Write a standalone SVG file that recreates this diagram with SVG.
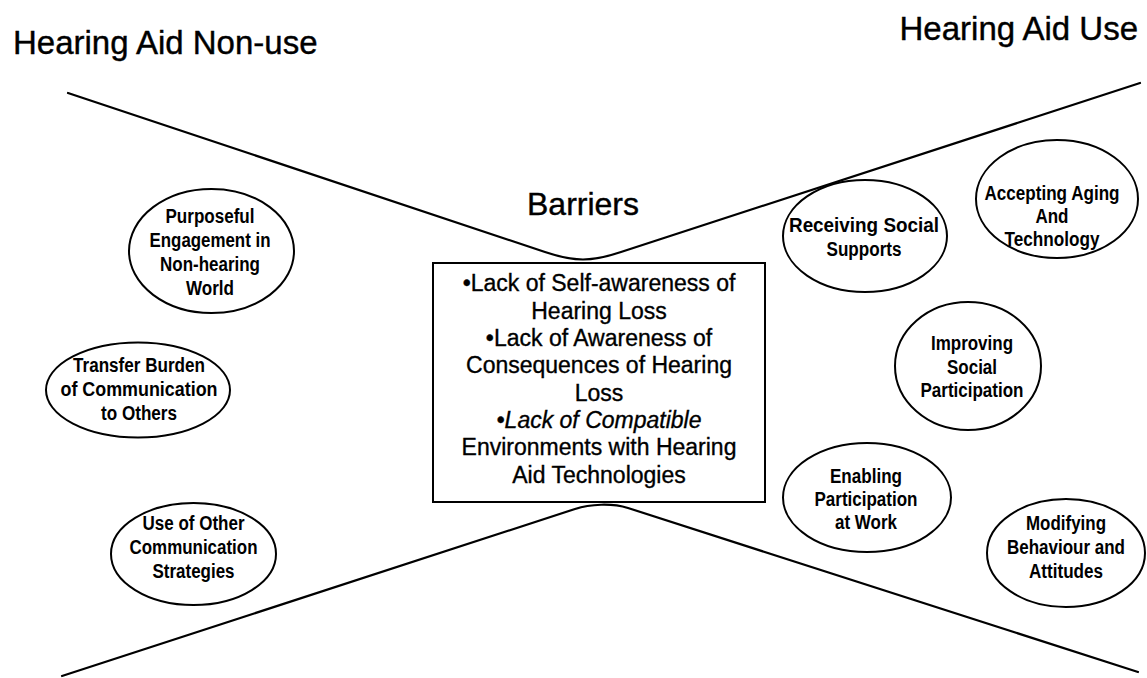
<svg xmlns="http://www.w3.org/2000/svg" width="1147" height="678" viewBox="0 0 1147 678">
  <style>
    .bg { fill: #ffffff; }
    .title { font-family: "Liberation Sans", Arial, sans-serif; font-size: 33px; fill: #000; stroke: #000; stroke-width: 0.4; }
    .heading { font-family: "Liberation Sans", Arial, sans-serif; font-size: 32px; fill: #000; stroke: #000; stroke-width: 0.4; text-anchor: middle; }
    .boxtext { font-family: "Liberation Sans", Arial, sans-serif; font-size: 23px; fill: #000; stroke: #000; stroke-width: 0.35; text-anchor: middle; }
    .nodetext { font-family: "Liberation Sans Narrow", "Liberation Sans", Arial, sans-serif; font-weight: bold; font-size: 20px; fill: #000; text-anchor: middle; }
    .oval { fill: none; stroke: #000; stroke-width: 2; }
    .box { fill: #fff; stroke: #000; stroke-width: 2; }
    .funnel { fill: none; stroke: #000; stroke-width: 2.2; stroke-linejoin: round; stroke-linecap: round; }
  </style>

  <rect class="bg" x="0" y="0" width="1147" height="678"/>

  <!-- column headings -->
  <text class="title" x="13" y="54">Hearing Aid Non-use</text>
  <text class="title" x="1138" y="40" text-anchor="end">Hearing Aid Use</text>

  <!-- hourglass outline narrowing to the barriers box -->
  <g id="connectors">
    <path class="funnel" d="M68,93 L545,252 C575,262 591,262 621,252 L1140,83"/>
    <path class="funnel" d="M62,676 L575,509 C590,504 612,503 628,508 L1138,672"/>
  </g>

  <!-- central barriers -->
  <g id="barriers">
    <text class="heading" x="583" y="215">Barriers</text>
    <rect class="box" x="433" y="263" width="332" height="239"/>
    <text class="boxtext" x="599" y="291">•Lack of Self-awareness of</text>
    <text class="boxtext" x="599" y="318.5">Hearing Loss</text>
    <text class="boxtext" x="599" y="346">•Lack of Awareness of</text>
    <text class="boxtext" x="599" y="373">Consequences of Hearing</text>
    <text class="boxtext" x="599" y="400.5">Loss</text>
    <text class="boxtext" x="599" y="428" font-style="italic">•Lack of Compatible</text>
    <text class="boxtext" x="599" y="455">Environments with Hearing</text>
    <text class="boxtext" x="599" y="482.5">Aid Technologies</text>
  </g>

  <!-- non-use side -->
  <g id="purposeful-engagement">
    <ellipse class="oval" cx="211.5" cy="251" rx="82.5" ry="62"/>
    <text class="nodetext" x="210" y="223" textLength="89" lengthAdjust="spacingAndGlyphs">Purposeful</text>
    <text class="nodetext" x="210" y="247" textLength="121" lengthAdjust="spacingAndGlyphs">Engagement in</text>
    <text class="nodetext" x="210" y="271" textLength="100" lengthAdjust="spacingAndGlyphs">Non-hearing</text>
    <text class="nodetext" x="210" y="295" textLength="48" lengthAdjust="spacingAndGlyphs">World</text>
  </g>

  <g id="transfer-burden">
    <ellipse class="oval" cx="138" cy="390" rx="92" ry="47.5"/>
    <text class="nodetext" x="139" y="372" textLength="132" lengthAdjust="spacingAndGlyphs">Transfer Burden</text>
    <text class="nodetext" x="139" y="396" textLength="157" lengthAdjust="spacingAndGlyphs">of Communication</text>
    <text class="nodetext" x="139" y="420" textLength="76" lengthAdjust="spacingAndGlyphs">to Others</text>
  </g>

  <g id="other-strategies">
    <ellipse class="oval" cx="193.5" cy="554" rx="82.5" ry="51"/>
    <text class="nodetext" x="193.5" y="530" textLength="102" lengthAdjust="spacingAndGlyphs">Use of Other</text>
    <text class="nodetext" x="193.5" y="554" textLength="128" lengthAdjust="spacingAndGlyphs">Communication</text>
    <text class="nodetext" x="193.5" y="578" textLength="82" lengthAdjust="spacingAndGlyphs">Strategies</text>
  </g>

  <!-- use side -->
  <g id="social-supports">
    <ellipse class="oval" cx="865" cy="236" rx="82" ry="56"/>
    <text class="nodetext" x="864" y="232" textLength="150" lengthAdjust="spacingAndGlyphs">Receiving Social</text>
    <text class="nodetext" x="864" y="256" textLength="75" lengthAdjust="spacingAndGlyphs">Supports</text>
  </g>

  <g id="accepting-aging">
    <ellipse class="oval" cx="1057" cy="199" rx="81" ry="59"/>
    <text class="nodetext" x="1052" y="200" textLength="135" lengthAdjust="spacingAndGlyphs">Accepting Aging</text>
    <text class="nodetext" x="1052" y="223" textLength="33" lengthAdjust="spacingAndGlyphs">And</text>
    <text class="nodetext" x="1052" y="246" textLength="95" lengthAdjust="spacingAndGlyphs">Technology</text>
  </g>

  <g id="social-participation">
    <ellipse class="oval" cx="968" cy="366" rx="73" ry="64"/>
    <text class="nodetext" x="972" y="350" textLength="82" lengthAdjust="spacingAndGlyphs">Improving</text>
    <text class="nodetext" x="972" y="373.5" textLength="50" lengthAdjust="spacingAndGlyphs">Social</text>
    <text class="nodetext" x="972" y="397" textLength="103" lengthAdjust="spacingAndGlyphs">Participation</text>
  </g>

  <g id="participation-work">
    <ellipse class="oval" cx="867" cy="497.5" rx="84" ry="54.5"/>
    <text class="nodetext" x="866" y="483" textLength="72" lengthAdjust="spacingAndGlyphs">Enabling</text>
    <text class="nodetext" x="866" y="506" textLength="103" lengthAdjust="spacingAndGlyphs">Participation</text>
    <text class="nodetext" x="866" y="529" textLength="62" lengthAdjust="spacingAndGlyphs">at Work</text>
  </g>

  <g id="modifying-behaviour">
    <ellipse class="oval" cx="1066" cy="553" rx="79" ry="54"/>
    <text class="nodetext" x="1066" y="530" textLength="80" lengthAdjust="spacingAndGlyphs">Modifying</text>
    <text class="nodetext" x="1066" y="554" textLength="118" lengthAdjust="spacingAndGlyphs">Behaviour and</text>
    <text class="nodetext" x="1066" y="578" textLength="74" lengthAdjust="spacingAndGlyphs">Attitudes</text>
  </g>
</svg>
